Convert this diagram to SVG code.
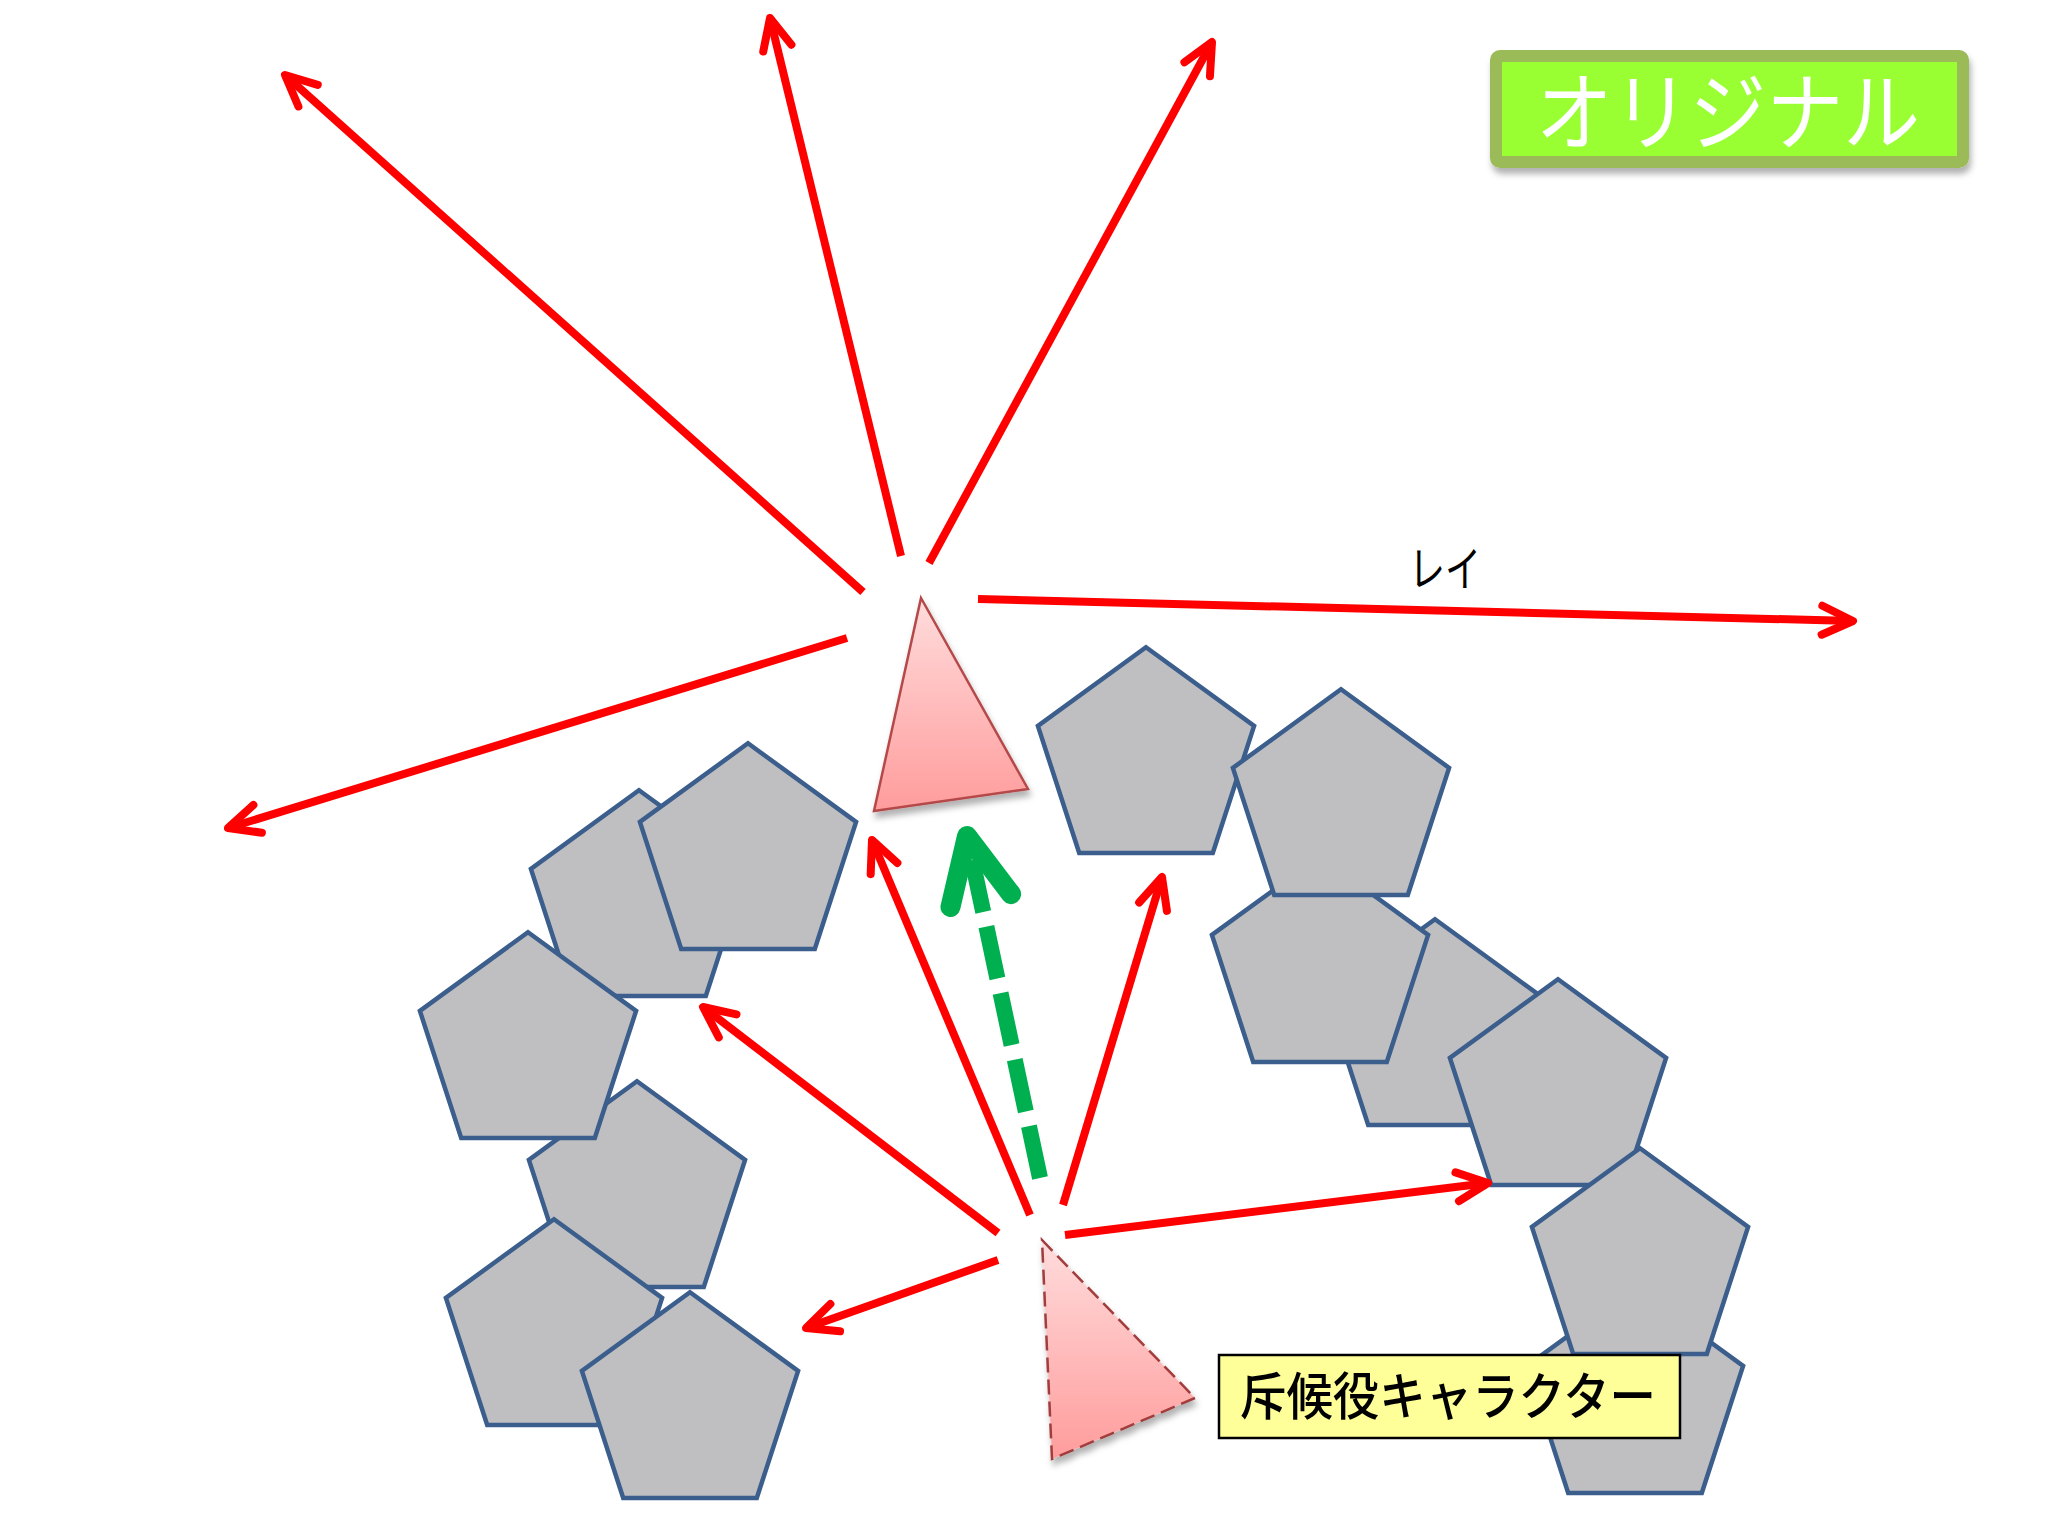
<svg xmlns="http://www.w3.org/2000/svg" xmlns:xlink="http://www.w3.org/1999/xlink" width="2048" height="1536" viewBox="0 0 2048 1536">
<style>
.pent{fill:#BFBFC1;stroke:#3B5E8C;stroke-width:4.5;stroke-linejoin:miter}
.ray{stroke:#FF0000;stroke-width:8;fill:none;marker-end:url(#ra)}
.jp{font-family:"Noto Sans CJK JP","Noto Sans",sans-serif}
</style>
<defs>
<polygon id="pent" points="0,-113.7 108.1,-35.1 66.8,92 -66.8,92 -108.1,-35.1"/>
<linearGradient id="tg" x1="0" y1="0" x2="0" y2="1">
<stop offset="0" stop-color="#FFDCDC"/>
<stop offset="1" stop-color="#FF9C9C"/>
</linearGradient>
<filter id="sh" x="-20%" y="-20%" width="140%" height="150%">
<feDropShadow dx="2" dy="6" stdDeviation="3" flood-color="#000" flood-opacity="0.3"/>
</filter>
<marker id="ra" markerUnits="userSpaceOnUse" orient="auto" viewBox="-45 -25 55 50" markerWidth="55" markerHeight="50" refX="0" refY="0">
<path d="M-31,-14.5 L0,0 L-31,14.5" fill="none" stroke="#FF0000" stroke-width="8" stroke-linecap="round" stroke-linejoin="round"/>
</marker>
<marker id="ga" markerUnits="userSpaceOnUse" orient="auto" viewBox="-90 -50 120 100" markerWidth="120" markerHeight="100" refX="-20" refY="0">
<path d="M-66,-31 L0,0 L-66,31" fill="none" stroke="#00B050" stroke-width="20" stroke-linecap="round" stroke-linejoin="round"/>
</marker>
</defs>
<rect width="2048" height="1536" fill="#FFFFFF"/>

<g id="obstacles-right">
<use xlink:href="#pent" class="pent" x="1435" y="1033"/>
<use xlink:href="#pent" class="pent" x="1320" y="970"/>
<use xlink:href="#pent" class="pent" x="1146" y="761"/>
<use xlink:href="#pent" class="pent" x="1341" y="803"/>
<use xlink:href="#pent" class="pent" x="1558" y="1093"/>
<use xlink:href="#pent" class="pent" x="1635" y="1401"/>
<use xlink:href="#pent" class="pent" x="1640" y="1262"/>
</g>
<g id="obstacles-left">
<use xlink:href="#pent" class="pent" x="639" y="904"/>
<use xlink:href="#pent" class="pent" x="748" y="857"/>
<use xlink:href="#pent" class="pent" x="637" y="1195"/>
<use xlink:href="#pent" class="pent" x="528" y="1046"/>
<use xlink:href="#pent" class="pent" x="554" y="1333"/>
<use xlink:href="#pent" class="pent" x="690" y="1406"/>
</g>

<g id="original-character">
<polygon points="921,598 1028,789 874,811" fill="url(#tg)" stroke="#B5494A" stroke-width="2.5" stroke-linejoin="miter" filter="url(#sh)"/>
</g>
<g id="scout-character">
<polygon points="1042,1240 1195,1398 1052,1459" fill="url(#tg)" stroke="#A13C3C" stroke-width="2.5" stroke-dasharray="15 7" filter="url(#sh)"/>
</g>

<g id="connectors">
<line class="ray" x1="863" y1="592" x2="285" y2="75"/>
<line class="ray" x1="901" y1="556" x2="770" y2="18"/>
<line class="ray" x1="929" y1="563" x2="1212" y2="42"/>
<line class="ray" x1="978" y1="599" x2="1853" y2="621"/>
<line class="ray" x1="847" y1="638" x2="228" y2="828"/>
<line class="ray" x1="998" y1="1233" x2="703" y2="1007"/>
<line class="ray" x1="1030" y1="1215" x2="872" y2="840"/>
<line class="ray" x1="1063" y1="1205" x2="1162" y2="877"/>
<line class="ray" x1="1065" y1="1235" x2="1488" y2="1183"/>
<line class="ray" x1="998" y1="1260" x2="806" y2="1328"/>
<line x1="1040" y1="1178" x2="971.2" y2="855.6" stroke="#00B050" stroke-width="16" stroke-dasharray="53 15" fill="none" marker-end="url(#ga)"/>
</g>

<g id="ray-label">
<text class="jp" x="1409" y="586" font-size="48" fill="#000" textLength="72" lengthAdjust="spacingAndGlyphs">レイ</text>
</g>

<g id="title">
<rect x="1496" y="56" width="467" height="106" rx="4" fill="#99FF33" stroke="#9BBB59" stroke-width="12" filter="url(#sh)"/>
<text class="jp" x="1536" y="144" font-size="86" fill="#FFFFFF" textLength="384" lengthAdjust="spacingAndGlyphs">オリジナル</text>
</g>

<g id="scout-label">
<rect x="1219" y="1355" width="461" height="83" fill="#FFFF99" stroke="#000" stroke-width="2.5"/>
<text class="jp" x="1240" y="1415" font-size="51" font-weight="500" fill="#000" textLength="416" lengthAdjust="spacingAndGlyphs">斥候役キャラクター</text>
</g>
</svg>
